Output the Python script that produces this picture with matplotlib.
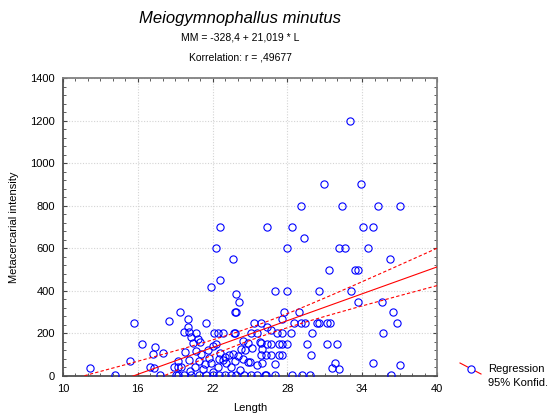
import matplotlib
matplotlib.use('Agg')
import matplotlib.pyplot as plt
from matplotlib.lines import Line2D
import numpy as np

plt.rcParams['font.family'] = ['Liberation Sans', 'DejaVu Sans']

# Shell length (mm) and metacercarial count per host
length = [
    33.0,
    30.9, 33.9,
    29.1, 32.4, 35.3, 37.0,
    22.6, 26.4, 28.4, 34.1, 34.9,
    29.3,
    22.3, 28.0, 32.1, 32.6, 34.5,
    23.6, 36.2,
    31.3, 33.4, 33.7,
    22.6, 21.9,
    27.0, 28.0, 30.5, 33.1,
    23.9, 24.1, 33.7, 35.6,
    19.4, 23.8, 23.9, 27.7, 28.9, 36.5,
    15.7, 18.5, 20.0, 21.5, 25.3, 25.9, 27.6, 28.5, 29.1, 29.4, 30.4, 30.5,
    31.2, 31.4, 36.8,
    19.7, 20.1, 20.7, 22.1, 22.4, 22.8, 23.7, 23.8, 25.1, 25.6, 26.4, 26.7,
    27.2, 27.6, 28.3, 30.0, 35.7, 20.0,
    16.3, 17.4, 20.3, 20.8, 21.0, 20.4, 22.0, 22.3, 24.4, 24.8, 25.8, 25.9,
    26.4, 26.7, 27.3, 27.6, 28.0, 29.6, 31.2, 32.0,
    17.2, 18.0, 19.8, 20.7, 21.1, 23.0, 23.3, 23.6, 24.3, 24.6, 25.2, 26.0,
    25.9, 26.3, 26.7, 27.3, 27.6, 29.9, 21.6, 22.6, 24.0,
    15.4, 19.2, 20.1, 20.9, 21.7, 21.9, 22.8, 23.1, 23.8, 24.4, 25.0, 25.6,
    26.0, 27.0, 31.8, 34.9, 37.0, 21.4, 22.5, 24.8,
    12.2, 17.0, 17.3, 18.9, 19.2, 19.5, 20.6, 21.2, 22.4, 23.5, 31.6, 32.1,
    20.2, 22.0, 24.2,
    14.2, 17.8, 19.1, 19.2, 19.7, 20.3, 20.9, 21.5, 22.0, 22.5, 23.0, 23.5,
    23.9, 24.5, 25.1, 25.6, 26.2, 26.3, 27.0, 28.4, 29.2, 29.8, 36.3,
]
intensity = [
    1200,
    900, 900,
    800, 800, 800, 800,
    700, 700, 700, 700, 700,
    650,
    600, 600, 600, 600, 600,
    550, 550,
    500, 500, 500,
    450, 420,
    400, 400, 400, 400,
    385, 350, 350, 350,
    300, 300, 300, 300, 300, 300,
    250, 258, 270, 250, 250, 250, 270, 250, 250, 250, 250, 250,
    250, 250, 250,
    205, 205, 200, 200, 200, 200, 200, 200, 200, 200, 230, 215,
    200, 200, 200, 200, 200, 230,
    150, 136, 183, 172, 160, 155, 141, 150, 164, 155, 160, 155,
    150, 150, 150, 150, 150, 150, 150, 150,
    103, 108, 113, 117, 103, 90, 100, 103, 127, 122, 131, 127,
    100, 100, 100, 100, 100, 100, 120, 110, 95,
    70, 70, 75, 70, 85, 61, 75, 61, 70, 80, 66, 52,
    60, 56, 60, 60, 50, 55, 80, 65,
    38, 42, 38, 42, 42, 42, 42, 33, 42, 42, 38, 33,
    25, 20, 28,
    3, 3, 3, 3, 3, 3, 3, 3, 3, 3, 3, 3,
    3, 3, 3, 3, 3, 3, 3, 3, 3, 3, 3,
]

# Fitted model as reported
intercept = -328.4
slope = 21.019
r_value = 0.49677

L = np.array(length)
MM = np.array(intensity)

# 95% confidence band of the mean response
n = len(L)
xbar = L.mean()
sxx = ((L - xbar) ** 2).sum()
resid = MM - (intercept + slope * L)
s = np.sqrt((resid ** 2).sum() / (n - 2))
t_crit = 1.97

xs = np.linspace(10, 40, 200)
fit = intercept + slope * xs
half = t_crit * s * np.sqrt(1.0 / n + (xs - xbar) ** 2 / sxx)

fig = plt.figure(figsize=(5.5, 4.15), dpi=100)
ax = fig.add_axes([63 / 550, 1 - 376 / 415, (437 - 63) / 550, (376 - 78) / 415])

ax.plot(L, MM, linestyle='none', marker='o', markersize=5.2,
        markerfacecolor='none', markeredgecolor='#0000ff', markeredgewidth=0.8,
        zorder=3)
ax.plot(xs, fit, color='#ff0000', linewidth=0.8, zorder=4)
ax.plot(xs, fit + half, color='#ff0000', linewidth=0.8, linestyle=(0, (3, 2)), zorder=4)
ax.plot(xs, fit - half, color='#ff0000', linewidth=0.8, linestyle=(0, (3, 2)), zorder=4)

ax.set_xlim(10, 40)
ax.set_ylim(0, 1400)
ax.set_xticks(np.arange(10, 41, 6))
ax.set_yticks(np.arange(0, 1401, 200))
ax.set_xticks(np.arange(10, 41, 1), minor=True)
ax.set_yticks(np.arange(0, 1401, 40), minor=True)
ax.grid(True, which='major', color='#d4d4d4', linestyle=(0, (1, 1.5)), linewidth=0.8)
ax.tick_params(which='both', direction='in', top=True, right=True,
               labelsize=8, color='#444444')
ax.tick_params(which='major', length=3, pad=6)
ax.tick_params(which='minor', length=2)
for side, sp in ax.spines.items():
    sp.set_color('#505050' if side in ('left', 'bottom') else '#808080')
    sp.set_linewidth(1.3)

ax.set_xlabel('Length', fontsize=8, labelpad=6)
ax.set_ylabel('Metacercarial intensity', fontsize=8, labelpad=8)

fig.text(240 / 550, 1 - 19 / 415, 'Meiogymnophallus minutus', fontsize=12,
         style='italic', ha='center', va='center')
fig.text(240 / 550, 1 - 38 / 415,
         'MM = %s + %s * L' % (('%.1f' % intercept).replace('.', ','),
                               ('%.3f' % slope).replace('.', ',')),
         fontsize=7.5, ha='center', va='center')
fig.text(240 / 550, 1 - 57 / 415,
         'Korrelation: r = %s' % ('%.5f' % r_value).replace('0.', ','),
         fontsize=7.5, ha='center', va='center')

# Legend key: red regression stroke through an open blue circle
fig.add_artist(Line2D([460 / 550, 481 / 550], [1 - 363 / 415, 1 - 374 / 415],
                      color='#ff0000', linewidth=0.8))
fig.add_artist(Line2D([470.5 / 550], [1 - 368.5 / 415], marker='o', markersize=5.2,
                      markerfacecolor='white', markeredgecolor='#0000ff',
                      markeredgewidth=0.8))
fig.text(488 / 550, 1 - 369 / 415, 'Regression', fontsize=8, va='center')
fig.text(488 / 550, 1 - 383 / 415, '95% Konfid.', fontsize=8, va='center')

fig.savefig('out.png', dpi=100)
